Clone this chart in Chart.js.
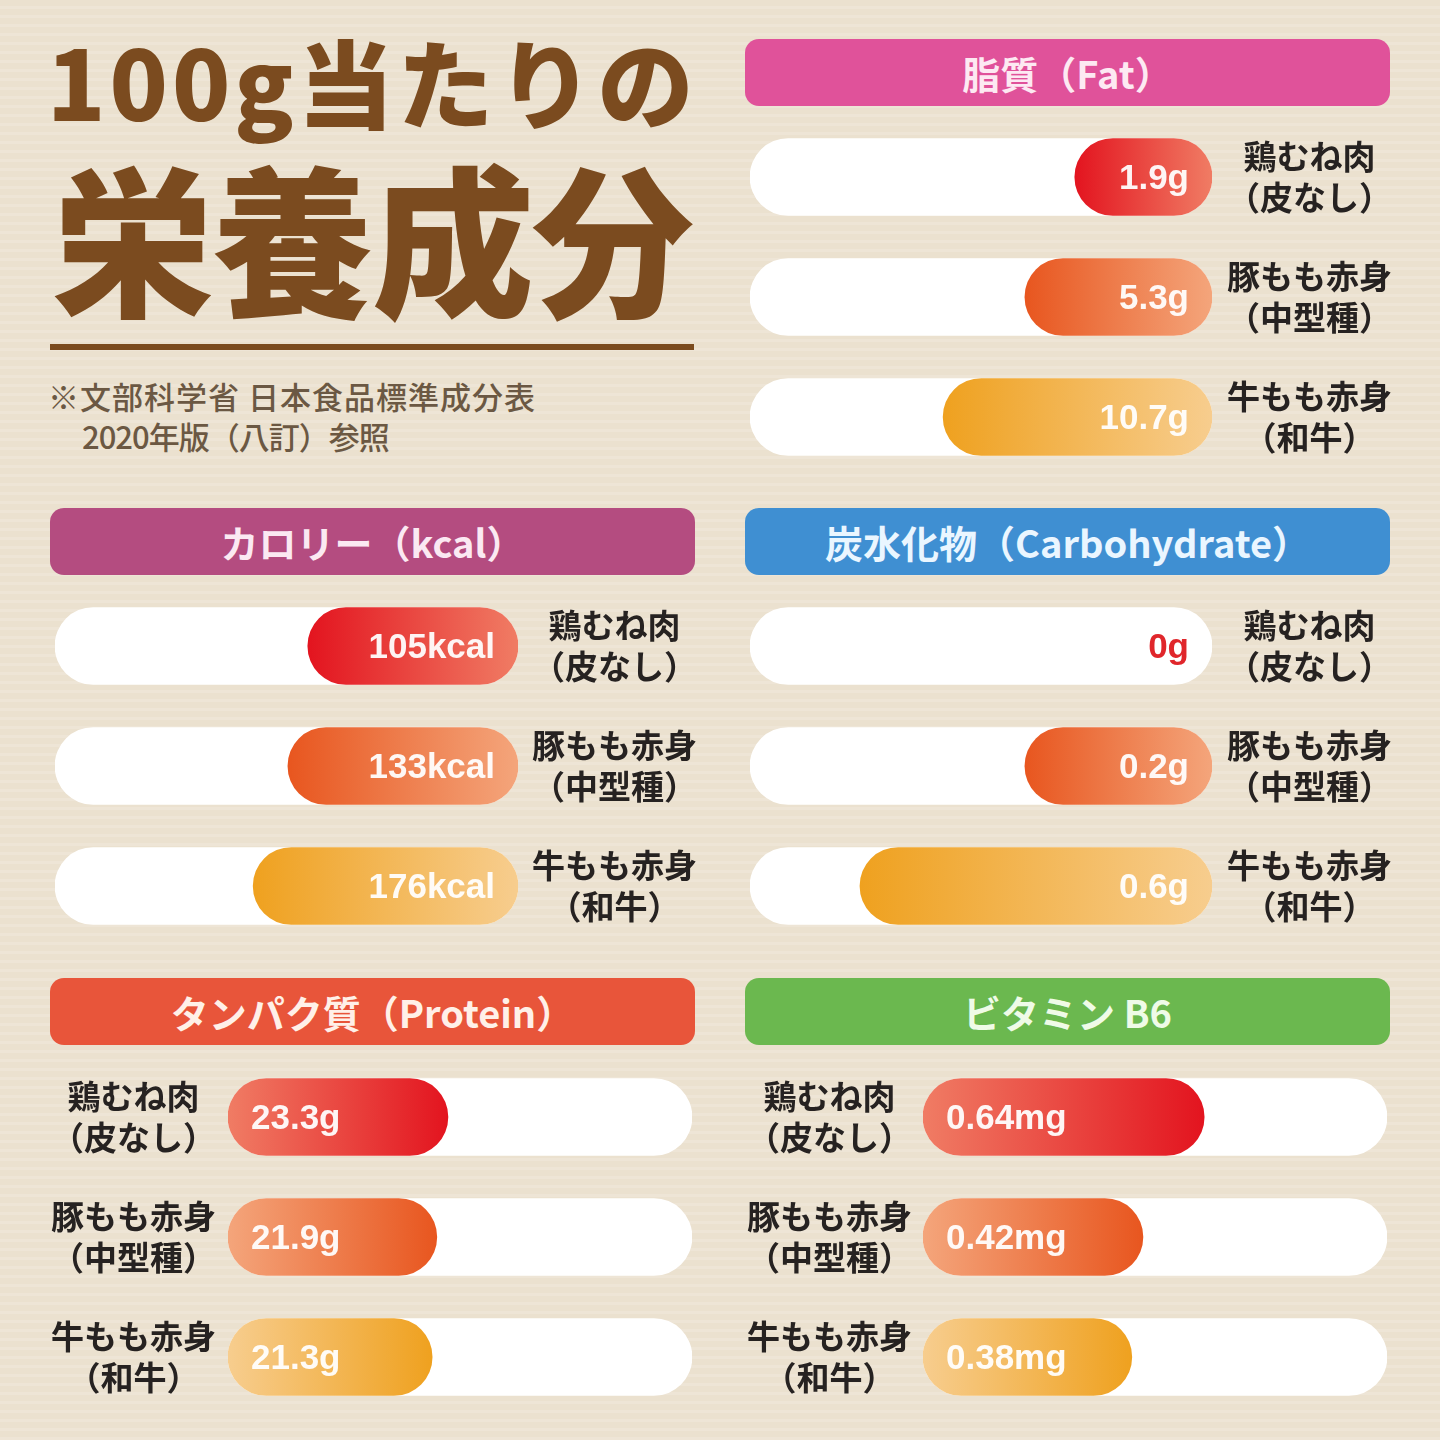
<!DOCTYPE html>
<html lang="ja">
<head>
<meta charset="utf-8">
<title>100g当たりの栄養成分</title>
<script src="https://cdn.jsdelivr.net/npm/chart.js@4.4.1/dist/chart.umd.min.js"></script>
<style>
  html, body { margin: 0; padding: 0; }
  body {
    width: 1440px; height: 1440px; position: relative; overflow: hidden;
    background: repeating-linear-gradient(to bottom, #ebe1cf 0px, #ebe1cf 6px, #eee5d6 6px, #eee5d6 9px);
    font-family: "Noto Sans CJK JP", "Noto Sans", sans-serif;
  }
  .title1, .title2 { position: absolute; color: #7b4b1f; font-weight: 900; white-space: nowrap; line-height: 1; }
  .title1 { left: 47px; top: 32px; font-size: 96px; letter-spacing: 4px; }
  .title2 { left: 52px; top: 154px; font-size: 162px; letter-spacing: -2px; }
  .rule { position: absolute; left: 50px; top: 344px; width: 644px; height: 6px; background: #7b4b1f; }
  .note { position: absolute; color: #6b5843; font-size: 31px; font-weight: 500; line-height: 40px; white-space: nowrap; }
  .head {
    position: absolute; width: 645px; height: 67px; border-radius: 14px;
    font-weight: 700; font-size: 38px; line-height: 67px; text-align: center; white-space: nowrap;
  }
  .box { position: absolute; }
</style>
</head>
<body>
<div class="title1">100g当たりの</div>
<div class="title2">栄養成分</div>
<div class="rule"></div>
<div class="note" style="left:48px;top:376px;letter-spacing:1px;">※文部科学省 日本食品標準成分表</div>
<div class="note" style="left:82px;top:416px;letter-spacing:-1px;">2020年版（八訂）参照</div>

<div class="head" style="left:745px;top:39px;background:#e0529a;color:#fde9f2;">脂質（Fat）</div>
<div class="head" style="left:50px;top:508px;background:#b44c80;color:#fbe9f2;">カロリー（kcal）</div>
<div class="head" style="left:745px;top:508px;background:#3f8fd2;color:#eaf6ff;">炭水化物（Carbohydrate）</div>
<div class="head" style="left:50px;top:978px;background:#e8553a;color:#fff0e8;">タンパク質（Protein）</div>
<div class="head" style="left:745px;top:978px;background:#6bb84f;color:#effbe7;">ビタミン B6</div>

<div class="box" style="left:750px;top:117px;width:652px;height:360px;"><canvas id="fat"></canvas></div>
<div class="box" style="left:55px;top:586px;width:653px;height:360px;"><canvas id="kcal"></canvas></div>
<div class="box" style="left:750px;top:586px;width:652px;height:360px;"><canvas id="carb"></canvas></div>
<div class="box" style="left:38px;top:1057px;width:654px;height:360px;"><canvas id="protein"></canvas></div>
<div class="box" style="left:733px;top:1057px;width:654px;height:360px;"><canvas id="b6"></canvas></div>

<script>
// 食品（2行ラベル）
const foods = [
  ['鶏むね肉', '（皮なし）'],
  ['豚もも赤身', '（中型種）'],
  ['牛もも赤身', '（和牛）']
];

// 成分値（100g当たり）
const fatGrams = [1.9, 5.3, 10.7];
const kcalValues = [105, 133, 176];
const carbGrams = [0, 0.2, 0.6];
const proteinGrams = [23.3, 21.9, 21.3];
const b6Mg = [0.64, 0.42, 0.38];

// バーの長さ（白いトラックに対する%、図から読み取り）
const fatFill = [29.7, 40.5, 58.2];
const kcalFill = [45.4, 49.7, 57.2];
const carbFill = [0, 40.5, 76.2];
const proteinFill = [47.4, 45.0, 44.0];
const b6Fill = [60.6, 47.4, 45.0];

const tipColors = ['#e3141f', '#e8561f', '#efa11f'];
const baseColors = ['#f07c64', '#f4a57b', '#f7cd8e'];

const valueLabels = {
  id: 'valueLabels',
  afterDatasetsDraw(chart, args, opts) {
    const ctx = chart.ctx;
    const xs = chart.scales.x;
    const base = xs.getPixelForValue(0);
    const meta = chart.getDatasetMeta(0);
    ctx.save();
    ctx.font = 'bold 35px "Liberation Sans", Arial, sans-serif';
    ctx.textBaseline = 'middle';
    meta.data.forEach((bar, i) => {
      const v = chart.data.datasets[0].data[i];
      ctx.fillStyle = v > 0 ? 'rgba(255,255,255,0.94)' : '#e0262b';
      if (opts.fromRight) {
        ctx.textAlign = 'right';
        ctx.fillText(opts.texts[i], base - 23, bar.y + 2);
      } else {
        ctx.textAlign = 'left';
        ctx.fillText(opts.texts[i], base + 23, bar.y + 2);
      }
    });
    ctx.restore();
  }
};

function gradientFill(c) {
  const chart = c.chart;
  if (!c.raw) return 'rgba(0,0,0,0)';
  if (!chart.chartArea) return tipColors[c.dataIndex];
  const xs = chart.scales.x;
  const base = xs.getPixelForValue(0);
  const tip = xs.getPixelForValue(c.raw);
  const g = chart.ctx.createLinearGradient(tip, 0, base, 0);
  g.addColorStop(0, tipColors[c.dataIndex]);
  g.addColorStop(1, baseColors[c.dataIndex]);
  return g;
}

function makePanel(id, fills, values, unit, fromRight, pad) {
  new Chart(document.getElementById(id), {
    type: 'bar',
    data: {
      labels: foods,
      datasets: [
        {
          data: fills,
          backgroundColor: gradientFill,
          borderRadius: 40,
          borderSkipped: false,
          barThickness: 77,
          grouped: false,
          order: 1
        },
        {
          data: fills.map(() => 100),
          backgroundColor: '#ffffff',
          borderRadius: 40,
          borderSkipped: false,
          barThickness: 77,
          grouped: false,
          order: 2
        }
      ]
    },
    options: {
      indexAxis: 'y',
      responsive: true,
      maintainAspectRatio: false,
      animation: false,
      layout: { padding: 0 },
      scales: {
        x: { min: 0, max: 100, reverse: fromRight, display: false },
        y: {
          position: fromRight ? 'right' : 'left',
          grid: { display: false, drawTicks: false },
          border: { display: false },
          afterFit: s => { s.width = 190; s.paddingTop = 0; s.paddingBottom = 0; },
          ticks: {
            crossAlign: 'center',
            padding: pad,
            color: '#262221',
            font: { family: '"Noto Sans CJK JP", sans-serif', size: 33, weight: 'bold', lineHeight: 1.22 }
          }
        }
      },
      plugins: {
        legend: { display: false },
        tooltip: { enabled: false },
        valueLabels: { fromRight: fromRight, texts: values.map(v => v + unit) }
      }
    },
    plugins: [valueLabels]
  });
}

makePanel('fat', fatFill, fatGrams, 'g', true, 15);
makePanel('kcal', kcalFill, kcalValues, 'kcal', true, 14);
makePanel('carb', carbFill, carbGrams, 'g', true, 15);
makePanel('protein', proteinFill, proteinGrams, 'g', false, 12);
makePanel('b6', b6Fill, b6Mg, 'mg', false, 11);
</script>
</body>
</html>
